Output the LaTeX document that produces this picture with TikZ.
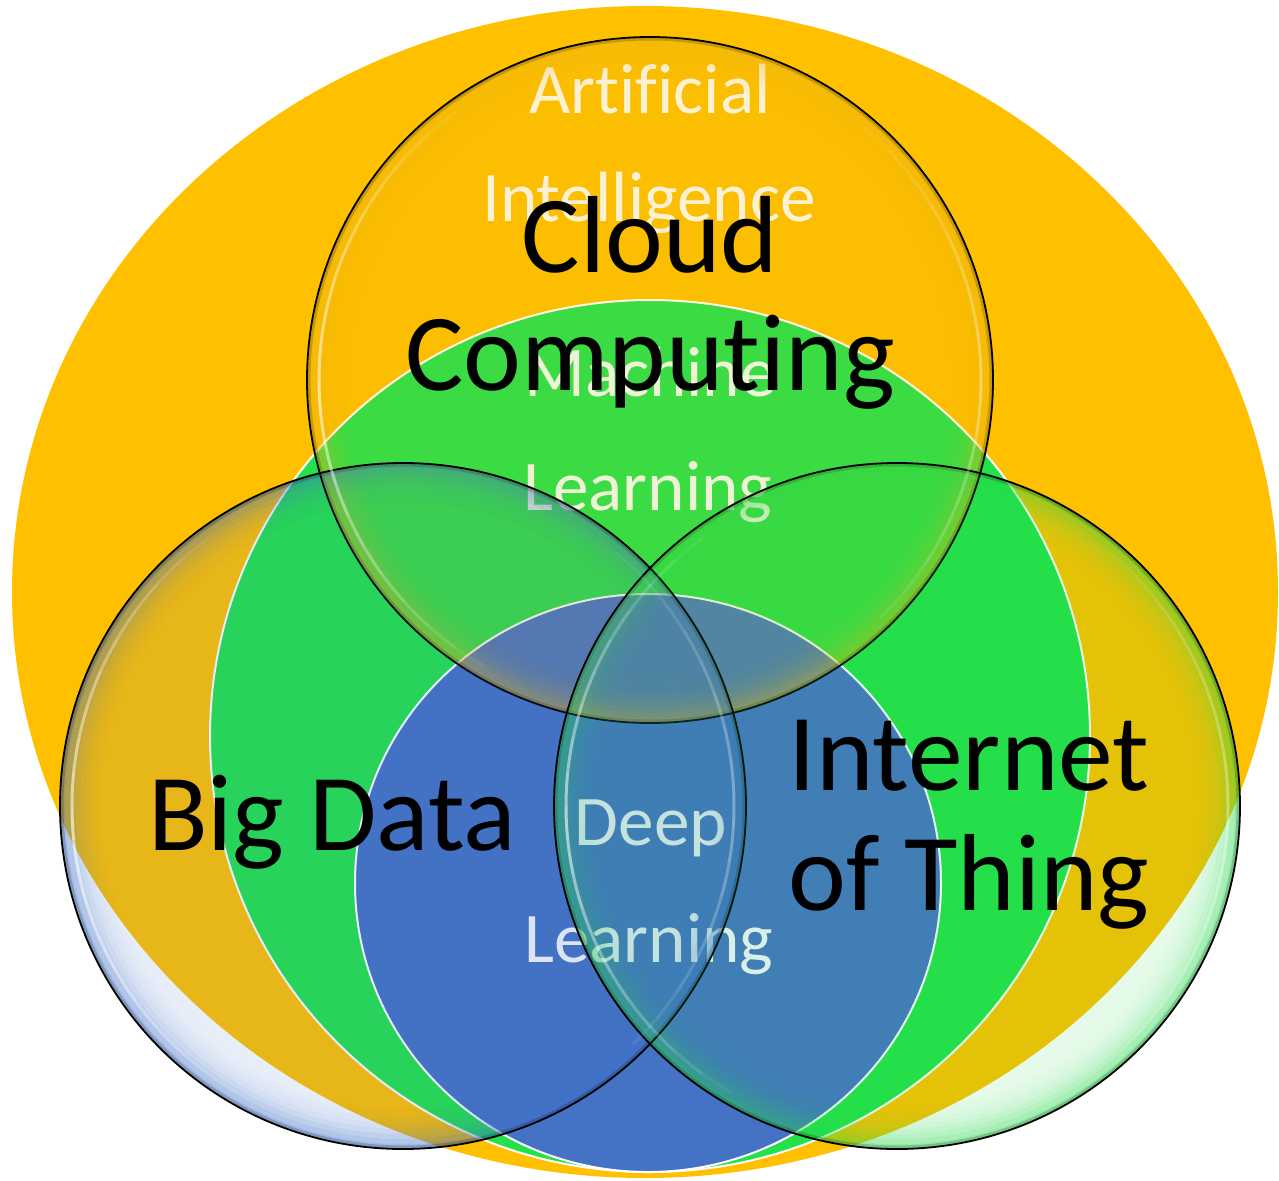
\documentclass[tikz,border=0pt]{standalone}
\usepackage{fontspec}
\setmainfont{Carlito}[Ligatures={NoCommon}]
\definecolor{aiorange}{HTML}{FFC000}
\definecolor{mlgreen}{HTML}{24E14B}
\definecolor{dlblue}{HTML}{4472C4}
\definecolor{cctint}{HTML}{E8B410}
\definecolor{bdtint}{HTML}{3F71C8}
\definecolor{iottint}{HTML}{26D84A}
\begin{document}
\begin{tikzpicture}[x=1bp,y=-1bp,
  baseshape/.style={draw=white,line width=2bp},
  whitetext/.style={text=white,text opacity=0.93,anchor=base,inner sep=0pt,font=\fontsize{71.5}{72}\selectfont},
  blacktext/.style={text=black,anchor=base,inner sep=0pt,font=\fontsize{110}{110}\selectfont},
  bubble/.style={fill=#1,fill opacity=0.12,draw=black,line width=1.8bp},
  gloss/.style={white,line width=3bp,line cap=butt},
]
\useasboundingbox (0,0) rectangle (1279,1181);
% named centres
\coordinate (cAI) at (645,592);
\coordinate (cML) at (650,736);
\coordinate (cDL) at (648,883);
\coordinate (cCC) at (650,380);
\coordinate (cBD) at (403,806);
\coordinate (cIoT) at (897,806);
% nested base shapes
\fill[aiorange] (cAI) ellipse [x radius=633, y radius=586];
\fill[mlgreen,baseshape] (cML) ellipse [x radius=440, y radius=436];
\fill[dlblue,baseshape] (cDL) ellipse [x radius=293, y radius=289];
% white labels of the nested sets
\node[whitetext] (ai1) at (650,113) {Artificial};
\node[whitetext] (ai2) at (649,221) {Intelligence};
\node[whitetext] (ml1) at (650,396) {Machine};
\node[whitetext] (ml2) at (648,510) {Learning};
\node[whitetext] (dl1) at (651,845) {Deep};
\node[whitetext] (dl2) at (649,962) {Learning};
% translucent bubbles: tinted bevel band
\foreach \c/\t in {cCC/cctint, cBD/bdtint, cIoT/iottint}{
  \foreach \k/\o in {0/0.42,1/0.32,2/0.24,3/0.17,4/0.11,5/0.07,6/0.04,7/0.02}{
    \draw[\t,line width=5bp,opacity=\o] (\c) circle [radius=340.5-5*\k];
  }
  \draw[black,line width=3bp,opacity=0.2] (\c) circle [radius=341];
}
\draw[bubble=cctint] (cCC) circle [radius=343];
\draw[bubble=bdtint] (cBD) circle [radius=343];
\draw[bubble=iottint] (cIoT) circle [radius=343];
% gloss highlights, fading towards their ends
\foreach \c in {cCC, cBD, cIoT}{
  \foreach \a in {120,126,...,234}{
    \pgfmathsetmacro\op{0.6*(1-abs(\a+3-177)/60)}
    \draw[gloss,opacity=\op] (\c) ++(\a:331) arc[start angle=\a,end angle=\a+6,radius=331];
  }
  \foreach \a in {-50,-44,...,44}{
    \pgfmathsetmacro\op{0.35*(1-abs(\a+3)/55)}
    \draw[gloss,opacity=\op] (\c) ++(\a:331) arc[start angle=\a,end angle=\a+6,radius=331];
  }
}
% black labels
\node[blacktext] (cc1) at (650,272) {Cloud};
\node[blacktext] (cc2) at (650,390) {Computing};
\node[blacktext] (bd1) at (332,850) {Big Data};
\node[blacktext] (iot1) at (969,790) {Internet};
\node[blacktext] (iot2) at (969,910) {of Thing};
\end{tikzpicture}
\end{document}
